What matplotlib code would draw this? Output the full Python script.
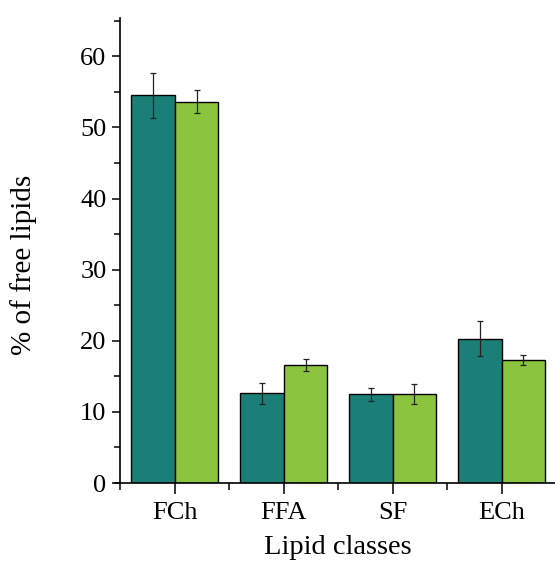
import numpy as np
import matplotlib
matplotlib.use('Agg')
from matplotlib import pyplot as plt
from matplotlib.ticker import MultipleLocator, FixedLocator

plt.rcParams['font.family'] = ['Liberation Serif', 'DejaVu Serif']

# Dados
classes = ['FCh', 'FFA', 'SF', 'ECh']
serie_a = [54.5, 12.6, 12.45, 20.3]
erro_a = [3.1, 1.5, 0.95, 2.45]
serie_b = [53.6, 16.6, 12.5, 17.3]
erro_b = [1.6, 0.9, 1.45, 0.65]

cor_a = '#1a7f77'
cor_b = '#8bc43f'

fig = plt.figure(figsize=(5.55, 5.61), dpi=100)
ax = fig.add_axes([0.207, 0.139, 0.795, 0.829])

x = np.arange(len(classes))
w = 0.4
ax.bar(x - w / 2, serie_a, w, color=cor_a, edgecolor='black', linewidth=1.0,
       yerr=erro_a, capsize=2.5, error_kw=dict(elinewidth=0.9, capthick=0.9, ecolor='#222222'))
ax.bar(x + w / 2, serie_b, w, color=cor_b, edgecolor='black', linewidth=1.0,
       yerr=erro_b, capsize=2.5, error_kw=dict(elinewidth=0.9, capthick=0.9, ecolor='#222222'))

ax.set_xlim(-0.55, 3.5)
ax.set_ylim(0, 65.4)

ax.spines['top'].set_visible(False)
ax.spines['right'].set_visible(False)
ax.spines['left'].set_position(('data', -0.5))
ax.spines['left'].set_linewidth(1.2)
ax.spines['bottom'].set_linewidth(1.2)

ax.set_xticks(x)
ax.set_xticklabels(classes)
ax.xaxis.set_minor_locator(FixedLocator([-0.5, 0.5, 1.5, 2.5]))
ax.yaxis.set_major_locator(MultipleLocator(10))
ax.yaxis.set_minor_locator(MultipleLocator(5))

ax.tick_params(axis='x', which='major', length=8, width=1.1, labelsize=19, pad=6)
ax.tick_params(axis='x', which='minor', length=5, width=1.1)
ax.tick_params(axis='y', which='major', length=6, width=1.1, labelsize=19, pad=4)
ax.tick_params(axis='y', which='minor', length=4, width=1.1)

ax.set_xlabel('Lipid classes', fontsize=20.5)
ax.set_ylabel('% of free lipids', fontsize=21)
ax.xaxis.set_label_coords(0.505, -0.111)
ax.yaxis.set_label_coords(-0.177, 0.469)

fig.savefig('out.png', dpi=100)
